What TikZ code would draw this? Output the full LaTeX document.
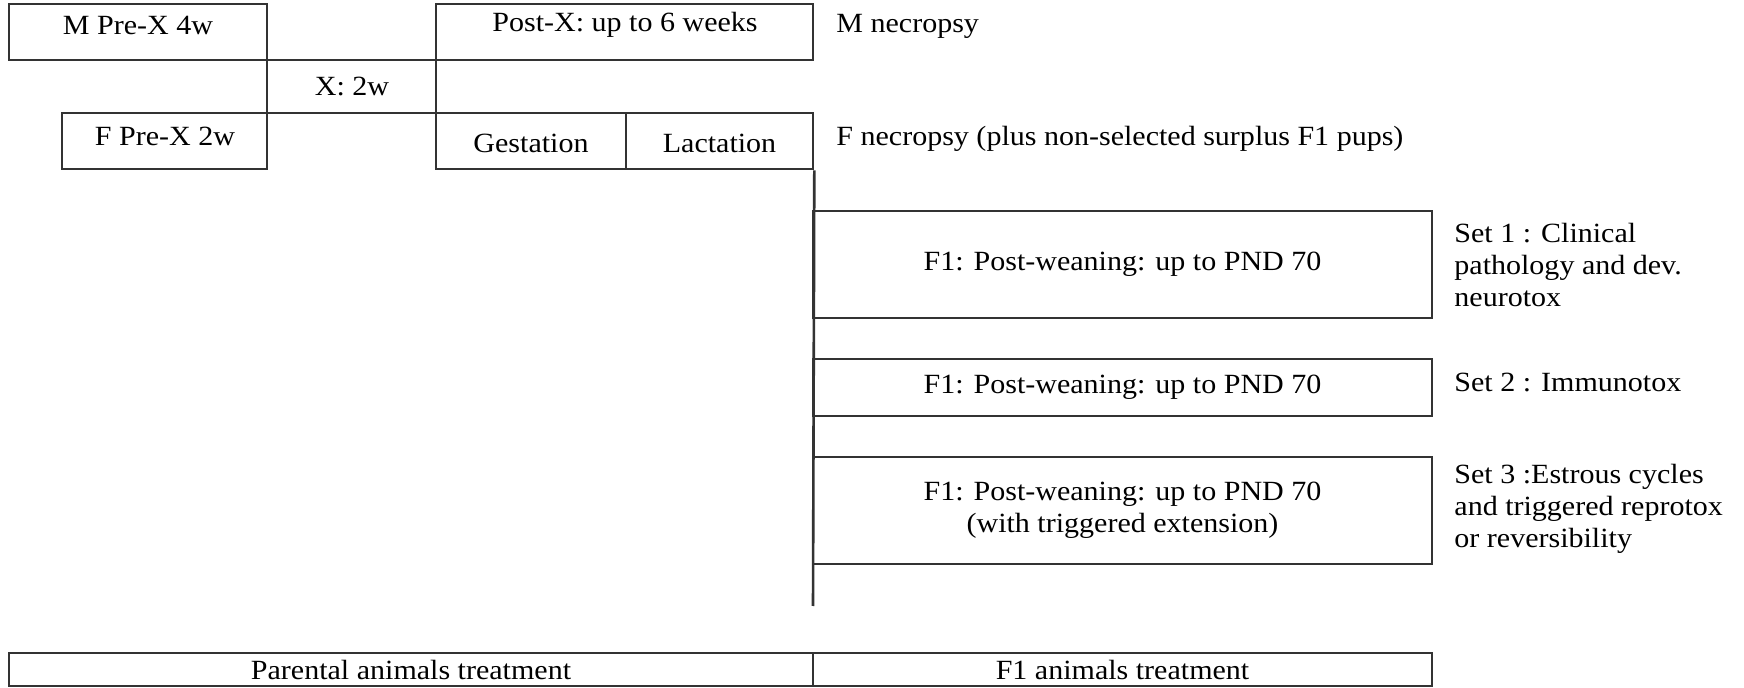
\documentclass[tikz,border=0pt]{standalone}
\usepackage{fontspec}
\setmainfont{Liberation Serif}[FakeStretch=1.08]
\usetikzlibrary{fit}
\begin{document}
\begin{tikzpicture}[x=0.5pt,y=-0.5pt,
  box/.style={draw=black!80, line width=1.3pt, inner sep=0pt, rectangle},
  txt/.style={inner sep=0pt, font=\fontsize{13.9}{16}\selectfont, align=center},
  lbl/.style={txt, anchor=west, align=left},
  line/.style={draw=black!80, line width=1.3pt}]
\useasboundingbox (0,0) rectangle (1744,688);

% parental generation
\node[box, fit={(9,4) (267,60)}] (mpre) {};
\node[txt] at (138,25) {M Pre-X 4w};
\node[box, fit={(436,4) (813,60)}] (postx) {};
\node[txt] at (625,25) {Post-X: up to 6 weeks};
\node[lbl] (mnec) at (836,26) {M necropsy};

\node[box, fit={(267,60) (436,113)}] (mating) {};
\node[txt] at (352,87) {X: 2w};

\node[box, fit={(62,113) (267,169)}] (fpre) {};
\node[txt] at (165,136) {F Pre-X 2w};
\node[box, fit={(436,113) (626,169)}] (gest) {};
\node[txt] at ([yshift=-1pt]gest.center) {Gestation};
\node[box, fit={(626,113) (813,169)}] (lact) {};
\node[txt] at ([yshift=-1pt]lact.center) {Lactation};
\node[lbl] (fnec) at (836,139) {F necropsy (plus non-selected surplus F1 pups)};

% weaning timeline
\coordinate (tend) at (813,606);
\draw[line] (lact.south east) -- (tend);

% F1 cohorts
\node[box, fit={(813,211) (1432,318)}] (set1) {};
\node[txt] at (set1.center) {F1: Post-weaning: up to PND 70};
\node[lbl] (set1l) at (1454,265) {Set 1 : Clinical\\pathology and dev.\\neurotox};
\node[box, fit={(813,359) (1432,416)}] (set2) {};
\node[txt] at (set2.center) {F1: Post-weaning: up to PND 70};
\node[lbl] (set2l) at (1454,382) {Set 2 : Immunotox};
\node[box, fit={(813,457) (1432,564)}] (set3) {};
\node[txt] at (set3.center) {F1: Post-weaning: up to PND 70\\(with triggered extension)};
\node[lbl] (set3l) at (1454,509) {Set 3 :Estrous cycles\\and triggered reprotox\\or reversibility};

% treatment bar
\node[box, fit={(9,653) (813,686)}] (par) {};
\node[txt] at (par.center) {Parental animals treatment};
\node[box, fit={(813,653) (1432,686)}] (f1t) {};
\node[txt] at (f1t.center) {F1 animals treatment};
\end{tikzpicture}
\end{document}
